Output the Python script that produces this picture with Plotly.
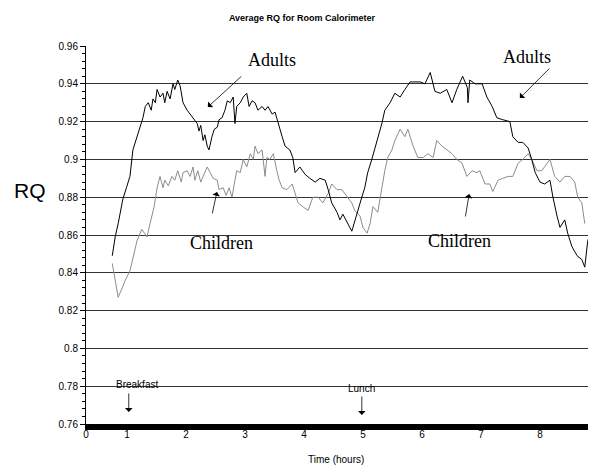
import plotly.graph_objects as go

# Time (hours) and RQ values
adult_time = [0.75, 0.80, 0.85, 0.93, 0.99,
              1.05, 1.10, 1.17, 1.22, 1.27, 1.31, 1.36, 1.41, 1.44, 1.48, 1.51, 1.56, 1.61, 1.64,
              1.68, 1.73, 1.78, 1.81, 1.86, 1.90, 1.93, 1.95, 2.02, 2.07, 2.12, 2.19, 2.22, 2.25,
              2.29, 2.32, 2.36, 2.39, 2.44, 2.48, 2.53, 2.56, 2.61, 2.66, 2.70, 2.75, 2.80, 2.83,
              2.86, 2.92, 2.97, 3.03, 3.07, 3.12, 3.17, 3.22, 3.29, 3.34, 3.39, 3.46, 3.51, 3.56,
              3.63, 3.68, 3.76, 3.81, 3.85, 3.93, 4.02, 4.10, 4.19, 4.27, 4.36, 4.41, 4.47, 4.56,
              4.61, 4.66, 4.75, 4.81, 4.83, 4.90, 4.98, 5.03, 5.08, 5.15, 5.24, 5.32, 5.37, 5.46,
              5.54, 5.63, 5.71, 5.80, 5.88, 5.97, 6.05, 6.14, 6.22, 6.31, 6.42, 6.51, 6.59, 6.69,
              6.77, 6.78, 6.81, 6.90, 7.02, 7.10, 7.19, 7.27, 7.37, 7.49, 7.54, 7.63, 7.71, 7.80,
              7.86, 7.92, 8.00, 8.08, 8.17, 8.22, 8.29, 8.34, 8.42, 8.47, 8.54, 8.63, 8.71, 8.76,
              8.81, 8.88, 8.95]
adult_rq = [0.849, 0.859, 0.866, 0.879, 0.885,
            0.891, 0.905, 0.912, 0.917, 0.922, 0.928, 0.930, 0.926, 0.932, 0.930, 0.937, 0.933, 0.935, 0.930,
            0.936, 0.932, 0.940, 0.937, 0.942, 0.939, 0.934, 0.930, 0.926, 0.924, 0.922, 0.919, 0.915, 0.918,
            0.910, 0.913, 0.907, 0.905, 0.912, 0.916, 0.917, 0.921, 0.922, 0.926, 0.931, 0.930, 0.933, 0.919,
            0.928, 0.930, 0.933, 0.935, 0.928, 0.931, 0.930, 0.926, 0.928, 0.926, 0.928, 0.924, 0.925, 0.919,
            0.912, 0.907, 0.905, 0.901, 0.893, 0.896, 0.892, 0.890, 0.888, 0.890, 0.889, 0.884, 0.877, 0.872,
            0.868, 0.871, 0.866, 0.862, 0.864, 0.872, 0.880, 0.885, 0.893, 0.900, 0.910, 0.919, 0.926, 0.930,
            0.935, 0.933, 0.937, 0.941, 0.941, 0.941, 0.940, 0.946, 0.936, 0.935, 0.937, 0.930, 0.937, 0.944,
            0.938, 0.930, 0.942, 0.940, 0.940, 0.933, 0.928, 0.922, 0.921, 0.920, 0.912, 0.909, 0.909, 0.906,
            0.900, 0.893, 0.888, 0.887, 0.889, 0.880, 0.870, 0.864, 0.868, 0.861, 0.854, 0.849, 0.847, 0.843,
            0.857, 0.863, 0.866]

child_time = [0.75, 0.80, 0.85, 0.92, 0.97, 1.05, 1.10, 1.17, 1.25, 1.34, 1.39, 1.44,
              1.46, 1.51, 1.56, 1.61, 1.64, 1.70, 1.76, 1.81, 1.86, 1.92, 1.95, 2.02, 2.07, 2.12,
              2.15, 2.20, 2.25, 2.29, 2.36, 2.41, 2.46, 2.53, 2.56, 2.63, 2.68, 2.73, 2.78, 2.83,
              2.86, 2.92, 2.97, 3.03, 3.09, 3.14, 3.17, 3.22, 3.29, 3.34, 3.37, 3.42, 3.48, 3.54,
              3.58,
              3.63, 3.71, 3.80, 3.85, 3.90, 3.98, 4.07, 4.15, 4.24, 4.32, 4.41, 4.47, 4.56, 4.64,
              4.73, 4.81, 4.86, 4.95, 5.00, 5.07, 5.12, 5.17, 5.25, 5.32, 5.37, 5.42, 5.49, 5.54,
              5.63, 5.71, 5.76, 5.85, 5.93, 6.02, 6.10, 6.19, 6.25, 6.34, 6.42, 6.51, 6.59, 6.68,
              6.76, 6.85, 6.93, 6.98, 7.07, 7.15, 7.20, 7.29, 7.37, 7.46, 7.54, 7.63, 7.71, 7.80,
              7.86, 7.95, 8.03, 8.12, 8.17, 8.25, 8.34, 8.42, 8.51, 8.59, 8.64, 8.71, 8.76]
child_rq = [0.845, 0.835, 0.827, 0.832, 0.836, 0.841, 0.848, 0.857, 0.863, 0.859, 0.866, 0.873,
            0.875, 0.885, 0.891, 0.885, 0.889, 0.886, 0.891, 0.889, 0.894, 0.888, 0.893, 0.894, 0.891, 0.896,
            0.889, 0.894, 0.888, 0.891, 0.896, 0.893, 0.890, 0.889, 0.884, 0.885, 0.881, 0.885, 0.880, 0.889,
            0.894, 0.893, 0.900, 0.896, 0.903, 0.900, 0.907, 0.903, 0.905, 0.891, 0.901, 0.900, 0.903, 0.894,
            0.889,
            0.885, 0.884, 0.887, 0.882, 0.877, 0.875, 0.873, 0.880, 0.880, 0.877, 0.882, 0.887, 0.884, 0.884,
            0.880, 0.877, 0.873, 0.870, 0.864, 0.861, 0.866, 0.875, 0.872, 0.885, 0.894, 0.901, 0.905, 0.910,
            0.916, 0.912, 0.916, 0.907, 0.901, 0.901, 0.903, 0.901, 0.910, 0.907, 0.905, 0.903, 0.900, 0.898,
            0.891, 0.894, 0.893, 0.894, 0.887, 0.887, 0.883, 0.889, 0.890, 0.891, 0.891, 0.898, 0.900, 0.903,
            0.900, 0.894, 0.894, 0.898, 0.900, 0.891, 0.888, 0.891, 0.891, 0.888, 0.880, 0.877, 0.866]

x_tick_vals = [0.305, 1, 2, 3, 4, 5, 6, 7, 8]
x_tick_text = ["0", "1", "2", "3", "4", "5", "6", "7", "8"]

SANS = "Liberation Sans, Arial, sans-serif"
SERIF = "Liberation Serif, Times New Roman, serif"

fig = go.Figure()
fig.add_trace(go.Scatter(x=child_time, y=child_rq, mode="lines",
                         line=dict(color="#8c8c8c", width=1), name="Children"))
fig.add_trace(go.Scatter(x=adult_time, y=adult_rq, mode="lines",
                         line=dict(color="#000000", width=1), name="Adults"))

# page has an 8px body margin: figure is sized/margined to compensate
fig.update_layout(
    width=588, height=458,
    margin=dict(l=78, r=0, t=38, b=42),
    paper_bgcolor="white", plot_bgcolor="white",
    showlegend=False,
    font=dict(family=SANS, size=10, color="black"),
    title=dict(text="<b>Average RQ for Room Calorimeter</b>", x=0.5, xanchor="center",
               y=1 - 10 / 458, yanchor="middle", font=dict(family=SANS, size=9, color="black")),
)

fig.update_xaxes(range=[0.305, 8.95], tickvals=x_tick_vals, ticktext=x_tick_text,
                 showgrid=False, zeroline=False, showline=True, linecolor="black", linewidth=6,
                 ticks="", tickfont=dict(size=10), ticklabelstandoff=-4)
fig.update_yaxes(range=[0.76, 0.96], dtick=0.02, tick0=0.76, showgrid=True, gridcolor="#333333",
                 gridwidth=1, zeroline=False, showline=True, linecolor="black", linewidth=1,
                 ticks="outside", ticklen=5, tickcolor="black", tickwidth=1,
                 minor=dict(dtick=0.004, ticks="outside", ticklen=3, tickcolor="black", showgrid=False),
                 tickfont=dict(size=10))

anns = [
    dict(text="RQ", xref="paper", yref="paper", x=-0.11, y=0.619, xanchor="center",
         yanchor="middle", showarrow=False, font=dict(family=SANS, size=21)),
    dict(text="Time (hours)", xref="paper", yref="paper", x=0.49, y=-0.095, xanchor="center",
         yanchor="middle", showarrow=False, font=dict(family=SANS, size=10)),
    dict(text="Adults", x=3.46, y=0.9526, showarrow=False, font=dict(family=SERIF, size=18)),
    dict(text="Adults", x=7.78, y=0.9542, showarrow=False, font=dict(family=SERIF, size=18)),
    dict(text="Children", x=2.61, y=0.8558, showarrow=False, font=dict(family=SERIF, size=18)),
    dict(text="Children", x=6.63, y=0.8568, showarrow=False, font=dict(family=SERIF, size=18)),
    dict(text="Breakfast", x=1.17, y=0.7807, showarrow=False, font=dict(family=SANS, size=10)),
    dict(text="Lunch", x=4.98, y=0.779, showarrow=False, font=dict(family=SANS, size=10)),
]
arrows = [
    (2.37, 0.9277, 35, -32),
    (7.66, 0.9325, 31, -31),
    (2.525, 0.8828, -5, 23),
    (6.80, 0.8817, -4, 24),
    (1.03, 0.7664, 0, -20),
    (4.98, 0.7648, 0, -20),
]
for (x, y, ax, ay) in arrows:
    anns.append(dict(text="", x=x, y=y, ax=ax, ay=ay, showarrow=True, arrowhead=1,
                     arrowsize=1.6, arrowwidth=0.8, arrowcolor="black"))
fig.update_layout(annotations=anns)

fig.write_html("out.html")
